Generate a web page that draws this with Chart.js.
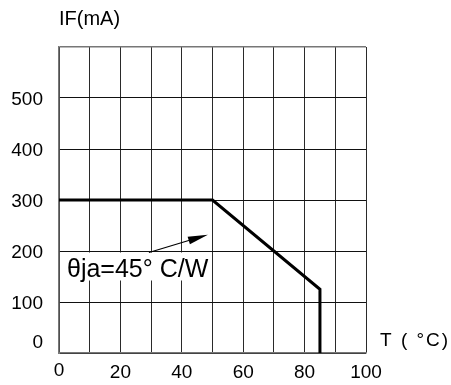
<!DOCTYPE html>
<html lang="en">
<head>
    <meta charset="UTF-8">
    <title>IF derating curve</title>
    <script src="https://cdn.jsdelivr.net/npm/chart.js"></script>
    <style>
        body { margin: 0; background: #fff; }
        #wrap { width: 451px; height: 385px; }
    </style>
</head>
<body>
    <div id="wrap"><canvas id="chart" width="451" height="385"></canvas></div>
    <script>
        // --- data ---
        const tempC = [0, 50, 85, 85];
        const currentMA = [300, 300, 125, 0];
        const xTicks = [0, 20, 40, 60, 80, 100];
        const yTicks = [0, 100, 200, 300, 400, 500];
        const noteText = 'θja=45° C/W';
        // annotation anchor + arrow, in data units
        const notePos = [2.6, 150];
        const arrowFrom = [29.3, 197];
        const arrowTo = [48.5, 232];

        const FONT = '"Liberation Sans", Arial, sans-serif';

        const textPlugin = {
            id: 'textPlugin',
            beforeDatasetsDraw(chart) {
                const ctx = chart.ctx;
                const xs = chart.scales.x, ys = chart.scales.y;
                // label box + text
                const tx = xs.getPixelForValue(notePos[0]);
                const ty = ys.getPixelForValue(notePos[1]);
                ctx.save();
                ctx.font = '25px ' + FONT;
                const w = ctx.measureText(noteText).width;
                ctx.fillStyle = '#fff';
                ctx.fillRect(tx - 4, ty - 24, w + 6, 28);
                ctx.fillStyle = '#000';
                ctx.textBaseline = 'alphabetic';
                ctx.fillText(noteText, tx, ty);
                // arrow
                const ax = xs.getPixelForValue(arrowFrom[0]), ay = ys.getPixelForValue(arrowFrom[1]);
                const bx = xs.getPixelForValue(arrowTo[0]), by = ys.getPixelForValue(arrowTo[1]);
                const ang = Math.atan2(by - ay, bx - ax);
                ctx.strokeStyle = '#000';
                ctx.lineWidth = 1.2;
                ctx.beginPath();
                ctx.moveTo(ax, ay);
                ctx.lineTo(bx - 14 * Math.cos(ang), by - 14 * Math.sin(ang));
                ctx.stroke();
                ctx.beginPath();
                ctx.moveTo(bx, by);
                ctx.lineTo(bx - 20 * Math.cos(ang) + 4 * Math.sin(ang), by - 20 * Math.sin(ang) - 4 * Math.cos(ang));
                ctx.lineTo(bx - 20 * Math.cos(ang) - 4 * Math.sin(ang), by - 20 * Math.sin(ang) + 4 * Math.cos(ang));
                ctx.closePath();
                ctx.fill();
                ctx.restore();
            },
            afterDraw(chart) {
                const ctx = chart.ctx;
                const xs = chart.scales.x, ys = chart.scales.y;
                const area = chart.chartArea;
                ctx.save();
                ctx.fillStyle = '#000';
                ctx.font = '19px ' + FONT;
                // y tick labels
                ctx.textAlign = 'right';
                ctx.textBaseline = 'middle';
                yTicks.forEach(v => {
                    let y = ys.getPixelForValue(v) + 2;
                    if (v === 0) y -= 12;
                    ctx.fillText(String(v), area.left - 16, y);
                });
                // x tick labels
                ctx.textAlign = 'center';
                xTicks.forEach(v => {
                    let y = area.bottom + 20;
                    if (v === 0) y -= 2;
                    ctx.fillText(String(v), xs.getPixelForValue(v), y);
                });
                // axis titles
                ctx.textAlign = 'left';
                ctx.font = '20px ' + FONT;
                ctx.fillText('IF(mA)', area.left, 19);
                ctx.font = '19px ' + FONT;
                ctx.letterSpacing = '2px';
                ctx.fillText('T ( °C)', area.right + 14, area.bottom - 12);
                ctx.restore();
            }
        };

        new Chart(document.getElementById('chart').getContext('2d'), {
            type: 'scatter',
            data: {
                datasets: [{
                    data: tempC.map((t, i) => ({ x: t, y: currentMA[i] })),
                    showLine: true,
                    borderColor: '#000',
                    borderWidth: 3,
                    pointRadius: 0,
                    fill: false,
                    tension: 0
                }]
            },
            options: {
                animation: false,
                responsive: false,
                layout: { padding: { left: 59, right: 85, top: 47, bottom: 32 } },
                plugins: { legend: { display: false }, tooltip: { enabled: false } },
                scales: {
                    x: {
                        type: 'linear', min: 0, max: 100,
                        ticks: { display: false, stepSize: 10 },
                        grid: { color: '#2a2a2a', lineWidth: 1, drawTicks: false },
                        border: { color: '#777', width: 1.5 },
                        afterFit(s) { s.height = 0; }
                    },
                    y: {
                        type: 'linear', min: 0, max: 600,
                        ticks: { display: false, stepSize: 100 },
                        grid: {
                            color: c => c.tick.value === 600 ? '#777' : '#111',
                            lineWidth: c => c.tick.value === 600 ? 1.5 : 1,
                            drawTicks: false
                        },
                        border: { color: '#777', width: 1.5 },
                        afterFit(s) { s.width = 0; }
                    }
                }
            },
            plugins: [textPlugin]
        });
    </script>
</body>
</html>
